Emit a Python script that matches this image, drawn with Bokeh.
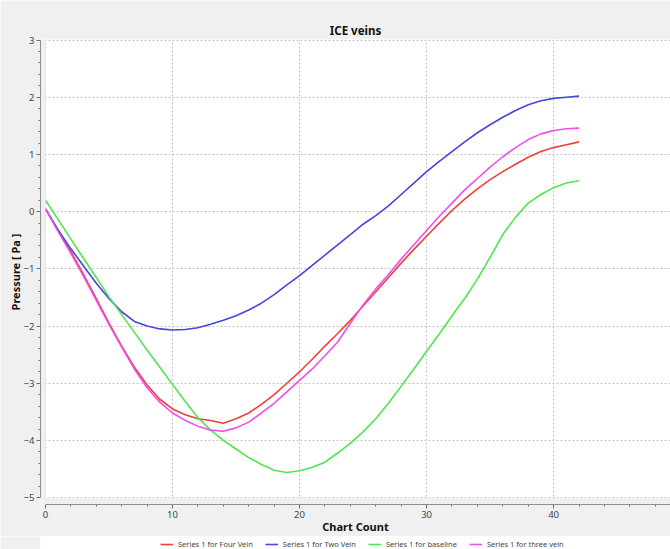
from bokeh.plotting import figure
from bokeh.models import (Range1d, SingleIntervalTicker, BoxAnnotation, Legend, LegendItem)
from bokeh.layouts import column
from bokeh.embed import file_html
from bokeh.resources import INLINE

chart_count = list(range(0, 43))

four_vein = [0.05, -0.33, -0.70, -1.10, -1.52, -1.95, -2.35, -2.72, -3.03, -3.28,
             -3.45, -3.55, -3.62, -3.65, -3.70, -3.62, -3.52, -3.37, -3.20, -3.00,
             -2.80, -2.58, -2.35, -2.13, -1.90, -1.65, -1.40, -1.15, -0.90, -0.66,
             -0.43, -0.20, 0.02, 0.22, 0.40, 0.56, 0.70, 0.83, 0.95, 1.05,
             1.12, 1.17, 1.22]

two_vein = [0.05, -0.32, -0.65, -0.95, -1.25, -1.52, -1.75, -1.92, -2.00, -2.05,
            -2.07, -2.06, -2.03, -1.97, -1.90, -1.82, -1.72, -1.60, -1.45, -1.28,
            -1.12, -0.94, -0.76, -0.58, -0.40, -0.22, -0.07, 0.10, 0.30, 0.50,
            0.70, 0.88, 1.05, 1.22, 1.38, 1.52, 1.65, 1.77, 1.87, 1.94,
            1.98, 2.00, 2.02]

baseline = [0.20, -0.14, -0.48, -0.82, -1.15, -1.49, -1.80, -2.11, -2.42, -2.72,
            -3.02, -3.32, -3.60, -3.82, -4.00, -4.15, -4.30, -4.42, -4.52, -4.56,
            -4.53, -4.47, -4.38, -4.22, -4.05, -3.85, -3.62, -3.35, -3.05, -2.75,
            -2.44, -2.14, -1.82, -1.52, -1.18, -0.80, -0.40, -0.10, 0.15, 0.30,
            0.42, 0.50, 0.54]

three_vein = [0.05, -0.35, -0.73, -1.13, -1.55, -1.97, -2.37, -2.75, -3.08, -3.33,
              -3.52, -3.65, -3.75, -3.82, -3.84, -3.78, -3.68, -3.52, -3.35, -3.15,
              -2.95, -2.75, -2.52, -2.28, -1.95, -1.63, -1.35, -1.10, -0.83, -0.58,
              -0.33, -0.08, 0.15, 0.38, 0.58, 0.78, 0.96, 1.12, 1.26, 1.36,
              1.42, 1.45, 1.46]

series_names = ["Series 1 for Four Vein", "Series 1 for Two Vein",
                "Series 1 for baseline", "Series 1 for three vein"]
series_colors = ["#ee4038", "#4646dc", "#4ee64e", "#f04cf0"]
series_values = [four_vein, two_vein, baseline, three_vein]

GRAY = "#f0f0f0"
FONT = "Noto Sans"

p = figure(width=670, height=536, output_backend="svg", toolbar_location=None,
           x_range=Range1d(-0.39, 49.2), y_range=Range1d(-5.12, 3.01),
           min_border_left=38, min_border_right=0, min_border_top=39,
           min_border_bottom=32, title="ICE veins")
p.border_fill_color = GRAY
p.background_fill_color = "white"
p.outline_line_color = None

p.title.align = "center"
p.title.text_font = FONT
p.title.text_font_size = "11.5px"
p.title.text_font_style = "bold"
p.title.text_color = "#111111"
p.title.offset = 0
p.title.standoff = 4

for ys, c in zip(series_values, series_colors):
    p.line(chart_count, ys, line_color=c, line_width=1.6)

# gray gap between offset axes and plot area
p.add_layout(BoxAnnotation(right=0, fill_color=GRAY, fill_alpha=1, line_alpha=0))
p.add_layout(BoxAnnotation(top=-5, fill_color=GRAY, fill_alpha=1, line_alpha=0))

xa = p.xaxis[0]
xa.ticker = SingleIntervalTicker(interval=10, num_minor_ticks=5)
xa.bounds = (0, 49.2)
xa.axis_label = "Chart Count"
ya = p.yaxis[0]
ya.ticker = SingleIntervalTicker(interval=1, num_minor_ticks=5)
ya.bounds = (-5, 3)
ya.axis_label = "Pressure [ Pa ]"
for ax in (xa, ya):
    ax.axis_line_color = "#6e6e6e"
    ax.major_tick_line_color = "#6e6e6e"
    ax.minor_tick_line_color = "#6e6e6e"
    ax.major_tick_in = 0
    ax.major_tick_out = 4
    ax.minor_tick_in = 0
    ax.minor_tick_out = 2
    ax.major_label_text_font = FONT
    ax.major_label_text_font_size = "9.5px"
    ax.major_label_text_color = "#444444"
    ax.major_label_standoff = 2
    ax.axis_label_text_font = FONT
    ax.axis_label_text_font_size = "11px"
    ax.axis_label_text_font_style = "bold"
    ax.axis_label_text_color = "#111111"
    ax.axis_label_standoff = -2

for g in (p.xgrid[0], p.ygrid[0]):
    g.grid_line_color = "#c4c4c4"
    g.grid_line_dash = "2 2"
    g.grid_line_width = 1

# legend strip below the chart
lg = figure(width=670, height=13, output_backend="svg", toolbar_location=None,
            x_range=Range1d(0, 1), y_range=Range1d(100, 101),
            x_axis_location=None, y_axis_location=None,
            min_border_left=40, min_border_right=0, min_border_top=0, min_border_bottom=0)
lg.border_fill_color = GRAY
lg.background_fill_color = "white"
lg.outline_line_color = None
lg.xgrid.visible = False
lg.ygrid.visible = False
leg_renderers = []
for ys, c in zip(series_values, series_colors):
    leg_renderers.append(lg.line(chart_count, ys, line_color=c, line_width=1.6))

legend = Legend(items=[LegendItem(label=n, renderers=[r]) for n, r in zip(series_names, leg_renderers)],
                orientation="horizontal", location=(120, 0),
                label_text_font=FONT, label_text_font_size="7.5px",
                label_text_color="#444444", glyph_width=13, glyph_height=8,
                label_height=8,
                label_standoff=5, spacing=12, padding=2, margin=0,
                border_line_color=None, background_fill_color="white",
                background_fill_alpha=1)
lg.add_layout(legend, "center")

layout = column(p, lg, spacing=0)
open("out.html", "w").write(file_html(layout, INLINE))
